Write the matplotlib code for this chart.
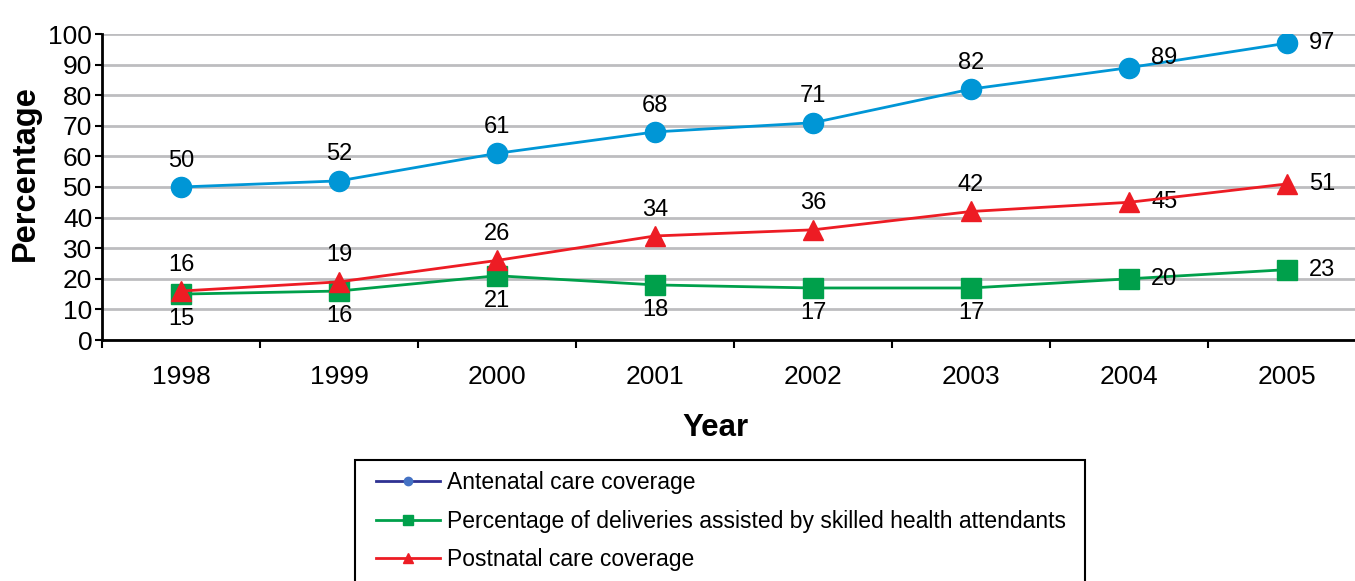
import matplotlib
matplotlib.use("Agg")
import matplotlib.pyplot as plt
from matplotlib.lines import Line2D
from matplotlib.patches import Rectangle

plt.rcParams['font.family'] = ['Liberation Sans', 'DejaVu Sans']

years = ['1998', '1999', '2000', '2001', '2002', '2003', '2004', '2005']
antenatal = [50, 52, 61, 68, 71, 82, 89, 97]
skilled = [15, 16, 21, 18, 17, 17, 20, 23]
postnatal = [16, 19, 26, 34, 36, 42, 45, 51]

names = ['Antenatal care coverage',
         'Percentage of deliveries assisted by skilled health attendants',
         'Postnatal care coverage']

blue = '#0096D6'
green = '#00A04B'
red = '#ED1C24'

W, H = 1355, 581
fig = plt.figure(figsize=(W / 100, H / 100), dpi=100)
ax = fig.add_axes([102 / W, 1 - 340 / H, 1264 / W, 306 / H])

x = list(range(len(years)))
ax.plot(x, antenatal, color=blue, lw=2, marker='o', ms=14.5, zorder=3)
ax.plot(x, skilled, color=green, lw=2, marker='s', ms=14, zorder=3)
ax.plot(x, postnatal, color=red, lw=2, marker='^', ms=15, zorder=4)

# data labels: above / below / right of the markers
def label(xs, ys, where):
    for xi, yi in zip(xs, ys):
        if xi >= 6:
            dy = 7 if (where == 'above' and xi == 6 and yi > 80) else 0
            ax.annotate(str(yi), (xi, yi), xytext=(16, dy), textcoords='offset points',
                        ha='left', va='center', fontsize=17)
        elif where == 'above':
            ax.annotate(str(yi), (xi, yi), xytext=(0, 19), textcoords='offset points',
                        ha='center', va='center', fontsize=17)
        else:
            ax.annotate(str(yi), (xi, yi), xytext=(0, -18), textcoords='offset points',
                        ha='center', va='center', fontsize=17)

label(x, antenatal, 'above')
label(x, postnatal, 'above')
label(x, skilled, 'below')

ax.set_xlim(-0.5, len(years) - 0.5)
ax.set_ylim(0, 100)
ax.set_yticks(range(0, 101, 10))
ax.set_xticks(x)
ax.set_xticklabels(years)
ax.set_xticks([i - 0.5 for i in range(len(years) + 1)], minor=True)
ax.tick_params(axis='x', which='major', length=0, pad=18, labelsize=19)
ax.tick_params(axis='x', which='minor', length=6, width=1.5, direction='out')
ax.tick_params(axis='y', length=5, width=1.5, direction='out', pad=2, labelsize=19)

ax.grid(axis='y', color='#BDBDC0', lw=2)
ax.set_axisbelow(True)
for s in ['top', 'right']:
    ax.spines[s].set_visible(False)
for s in ['left', 'bottom']:
    ax.spines[s].set_linewidth(2)

ax.set_ylabel('Percentage', fontsize=23.5, fontweight='bold')
ax.yaxis.set_label_coords((25 - 102) / 1264, (340 - 173) / 306)
ax.set_xlabel('Year', fontsize=22.5, fontweight='bold')
ax.xaxis.set_label_coords((715 - 102) / 1264, (340 - 428) / 306)
ax.xaxis.label.set_va('center')
ax.yaxis.label.set_va('center')

# legend box runs off the bottom of the image
fig.patches.append(Rectangle((355 / W, -0.1), 730 / W, 0.1 + 1 - 460 / H,
                             transform=fig.transFigure, fill=False,
                             edgecolor='black', lw=1.5))
handles = [
    Line2D([], [], color='#2E3192', lw=2, marker='o', ms=6, mfc='#4472C4', mec='#4472C4'),
    Line2D([], [], color=green, lw=2, marker='s', ms=7),
    Line2D([], [], color=red, lw=2, marker='^', ms=7),
]
fig.legend(handles, names, loc='upper left', bbox_to_anchor=(376 / W, 1 - 471 / H),
           frameon=False, fontsize=16.5, handlelength=2.8, handletextpad=0.3,
           labelspacing=0.68, borderpad=0, borderaxespad=0)

fig.savefig('out.png', dpi=100)
